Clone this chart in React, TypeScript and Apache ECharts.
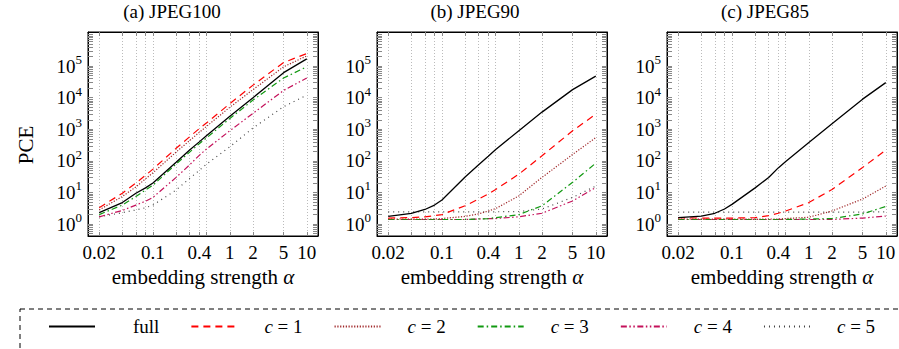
import React, { useEffect, useRef } from "react";
import * as echarts from "echarts";

// ---- data ----
const X_VALUES = [0.02, 0.04, 0.06, 0.08, 0.1, 0.2, 0.3, 0.4, 0.5, 1, 2, 5, 10];
const X_TICK_LABELS = [0.02, 0.1, 0.4, 1, 2, 5, 10];
const Y_TICK_LABELS = [1, 10, 100, 1000, 10000, 100000];
const PANEL_TITLES = ["(a) JPEG100", "(b) JPEG90", "(c) JPEG85"];
const SERIES_NAMES = ["full", "c = 1", "c = 2", "c = 3", "c = 4", "c = 5"];

// (a) JPEG100
const A_FULL = [2.3, 4.8, 9.5, 14, 20, 90, 220, 400, 640, 2600, 10000, 62000, 170000];
const A_C1 = [3.3, 9.5, 20, 35, 55, 250, 580, 1050, 1600, 6500, 25000, 130000, 250000];
const A_C2 = [2.8, 7.5, 15, 27, 42, 190, 440, 800, 1250, 5000, 18000, 95000, 210000];
const A_C3 = [2.0, 4.0, 7.5, 12, 17, 80, 190, 350, 540, 2200, 8400, 42000, 95000];
const A_C4 = [1.7, 2.7, 4.0, 5.3, 7, 30, 75, 150, 240, 900, 3200, 17000, 42000];
const A_C5 = [1.7, 2.3, 2.8, 3.3, 4.0, 12, 28, 50, 80, 280, 1100, 5200, 12000];

// (b) JPEG90
const B_FULL = [1.75, 2.2, 2.9, 4.0, 5.8, 31, 75, 140, 230, 900, 3500, 18000, 48000];
const B_C1 = [1.55, 1.6, 1.7, 1.85, 2.0, 3.8, 6.2, 9, 12.5, 38, 145, 900, 3000];
const B_C2 = [1.45, 1.45, 1.45, 1.45, 1.5, 1.75, 2.1, 2.6, 3.1, 7.8, 30, 160, 545];
const B_C3 = [1.4, 1.4, 1.4, 1.4, 1.4, 1.4, 1.45, 1.5, 1.6, 2.0, 3.8, 21, 85];
const B_C4 = [1.4, 1.4, 1.4, 1.4, 1.4, 1.4, 1.45, 1.5, 1.5, 1.7, 2.2, 5.4, 14.5];
const B_C5 = [2.45, 2.45, 2.45, 2.45, 2.45, 2.45, 2.45, 2.45, 2.45, 2.5, 3.0, 7, 16];

// (c) JPEG85
const C_FULL = [1.6, 1.8, 2.2, 3.0, 4.2, 14, 30, 60, 95, 380, 1500, 9000, 30000];
const C_C1 = [1.6, 1.55, 1.55, 1.55, 1.55, 1.6, 1.85, 2.2, 2.6, 4.8, 12.5, 62, 220];
const C_C2 = [1.45, 1.45, 1.45, 1.45, 1.45, 1.45, 1.45, 1.45, 1.5, 1.65, 2.6, 6.2, 16];
const C_C3 = [1.4, 1.4, 1.4, 1.4, 1.4, 1.4, 1.4, 1.4, 1.4, 1.45, 1.5, 2.1, 3.6];
const C_C4 = [1.4, 1.4, 1.4, 1.4, 1.4, 1.4, 1.4, 1.4, 1.4, 1.4, 1.4, 1.55, 1.8];
const C_C5 = [2.4, 2.4, 2.4, 2.4, 2.4, 2.4, 2.4, 2.4, 2.4, 2.4, 2.4, 2.4, 2.45];

const PANEL_DATA = [
  [A_FULL, A_C1, A_C2, A_C3, A_C4, A_C5],
  [B_FULL, B_C1, B_C2, B_C3, B_C4, B_C5],
  [C_FULL, C_C1, C_C2, C_C3, C_C4, C_C5],
];

// ---- styles ----
const FONT = '"Liberation Serif", "DejaVu Serif", serif';
const COLORS = ["#000000", "#ff0000", "#a0282a", "#119911", "#c4115a", "#444444"];
const DASHES: any[] = ["solid", [7, 5], [1.2, 1.6], [6, 3, 1.5, 3], [6, 2.5, 1.5, 2.5, 1.5, 2.5], [1, 4]];
const GRID_LEFTS = [88, 377, 667];
const GRID_TOP = 32;
const GRID_W = 230;
const GRID_H = 204;
const X_MIN = 0.0143;
const X_MAX = 14;
const Y_MIN = 0.42;
const Y_MAX = 1.2e6;
const TITLE_CENTERS = [172, 475, 765];

function yMinorTicks() {
  const out: number[] = [];
  for (let k = -1; k <= 6; k++) {
    for (let m = 1; m <= 9; m++) {
      const v = m * Math.pow(10, k);
      if (v >= Y_MIN && v <= Y_MAX) out.push(v);
    }
  }
  return out;
}

function fmtX(v: number) {
  return String(+Number(v).toPrecision(3));
}

export default function App() {
  const ref = useRef<HTMLDivElement>(null);
  useEffect(() => {
    document.body.style.margin = "0";
    if (!ref.current) return;
    const chart = echarts.init(ref.current, null, { renderer: "svg" });
    const yTicks = yMinorTicks();

    const grids: any[] = [];
    const xAxes: any[] = [];
    const yAxes: any[] = [];
    const series: any[] = [];
    const titles: any[] = [];

    PANEL_TITLES.forEach((t, p) => {
      grids.push({
        left: GRID_LEFTS[p],
        top: GRID_TOP,
        width: GRID_W,
        height: GRID_H,
        show: true,
        borderColor: "#000",
        borderWidth: 1,
      });
      titles.push({
        text: t,
        left: TITLE_CENTERS[p],
        textAlign: "center",
        top: 2,
        padding: 0,
        textStyle: { fontFamily: FONT, fontSize: 19, fontWeight: "normal", color: "#000" },
      });
      const xBase = {
        type: "log",
        gridIndex: p,
        min: X_MIN,
        max: X_MAX,
        axisLine: { show: true, lineStyle: { color: "#000", width: 1 } },
      };
      xAxes.push({
        ...xBase,
        position: "bottom",
        axisTick: { show: true, inside: true, length: 4, customValues: X_VALUES, lineStyle: { color: "#888" } },
        splitLine: { show: true, lineStyle: { color: "#bbb", type: [1, 2], width: 1 } },
        axisLabel: {
          customValues: X_TICK_LABELS,
          formatter: (v: number) => fmtX(v),
          fontFamily: FONT,
          fontSize: 19,
          color: "#000",
          margin: 7,
        },
        name: "embedding strength {i|α}",
        nameLocation: "middle",
        nameGap: 28,
        nameTextStyle: {
          fontFamily: FONT,
          fontSize: 21,
          color: "#000",
          rich: { i: { fontFamily: FONT, fontSize: 21, fontStyle: "italic", color: "#000" } },
        },
      });
      xAxes.push({
        ...xBase,
        position: "top",
        axisTick: { show: true, inside: true, length: 4, customValues: X_VALUES, lineStyle: { color: "#888" } },
        axisLabel: { show: false },
        splitLine: { show: false },
      });
      const yBase = {
        type: "log",
        gridIndex: p,
        min: Y_MIN,
        max: Y_MAX,
        axisLine: { show: true, lineStyle: { color: "#000", width: 1 } },
        splitLine: { show: false },
      };
      yAxes.push({
        ...yBase,
        position: "left",
        axisTick: { show: true, inside: true, length: 5, customValues: yTicks, lineStyle: { color: "#888" } },
        axisLabel: {
          customValues: Y_TICK_LABELS,
          formatter: (v: number) => `{b|10}{s|${Math.round(Math.log10(v))}}`,
          margin: 6,
          rich: {
            b: { fontFamily: FONT, fontSize: 19, color: "#000", lineHeight: 26 },
            s: { fontFamily: FONT, fontSize: 13, color: "#000", lineHeight: 14, verticalAlign: "top" },
          },
        },
        ...(p === 0
          ? {
              name: "PCE",
              nameLocation: "middle",
              nameGap: 52,
              nameTextStyle: { fontFamily: FONT, fontSize: 21, color: "#000", padding: [0, 22, 0, 0] },
            }
          : {}),
      });
      yAxes.push({
        ...yBase,
        position: "right",
        axisTick: { show: true, inside: true, length: 5, customValues: yTicks, lineStyle: { color: "#888" } },
        axisLabel: { show: false },
      });

      SERIES_NAMES.forEach((name, s) => {
        const vals = PANEL_DATA[p][s];
        series.push({
          type: "line",
          name,
          xAxisIndex: 2 * p,
          yAxisIndex: 2 * p,
          data: X_VALUES.map((x, i) => [x, vals[i]]),
          symbol: "none",
          smooth: false,
          lineStyle: { color: COLORS[s], width: s === 0 ? 1.3 : 1.2, type: DASHES[s] },
          itemStyle: { color: COLORS[s] },
          z: 10 - s,
        });
      });
    });

    chart.setOption({
      animation: false,
      backgroundColor: "#fff",
      title: titles,
      grid: grids,
      xAxis: xAxes,
      yAxis: yAxes,
      series,
      legend: {
        data: SERIES_NAMES,
        left: 48,
        top: 317,
        padding: 0,
        itemWidth: 46,
        itemHeight: 12,
        itemGap: 31,
        selectedMode: false,
        itemStyle: { opacity: 0 },
        formatter: (name: string) => (name === "full" ? "{g|}full" : `{i|c} = ${name.slice(4)}`),
        textStyle: {
          fontFamily: FONT,
          fontSize: 19,
          color: "#000",
          padding: [0, 0, 0, 22],
          rich: {
            g: { width: 11, fontFamily: FONT, fontSize: 19 },
            i: { fontFamily: FONT, fontSize: 19, fontStyle: "italic", color: "#000" },
          },
        },
      },
      graphic: [
        {
          type: "rect",
          shape: { x: 20, y: 309, width: 900, height: 60 },
          style: { fill: "none", stroke: "#000", lineWidth: 1, lineDash: [5, 4] },
          silent: true,
        },
      ],
    });
    return () => chart.dispose();
  }, []);
  return <div ref={ref} style={{ width: 899, height: 349 }} />;
}
